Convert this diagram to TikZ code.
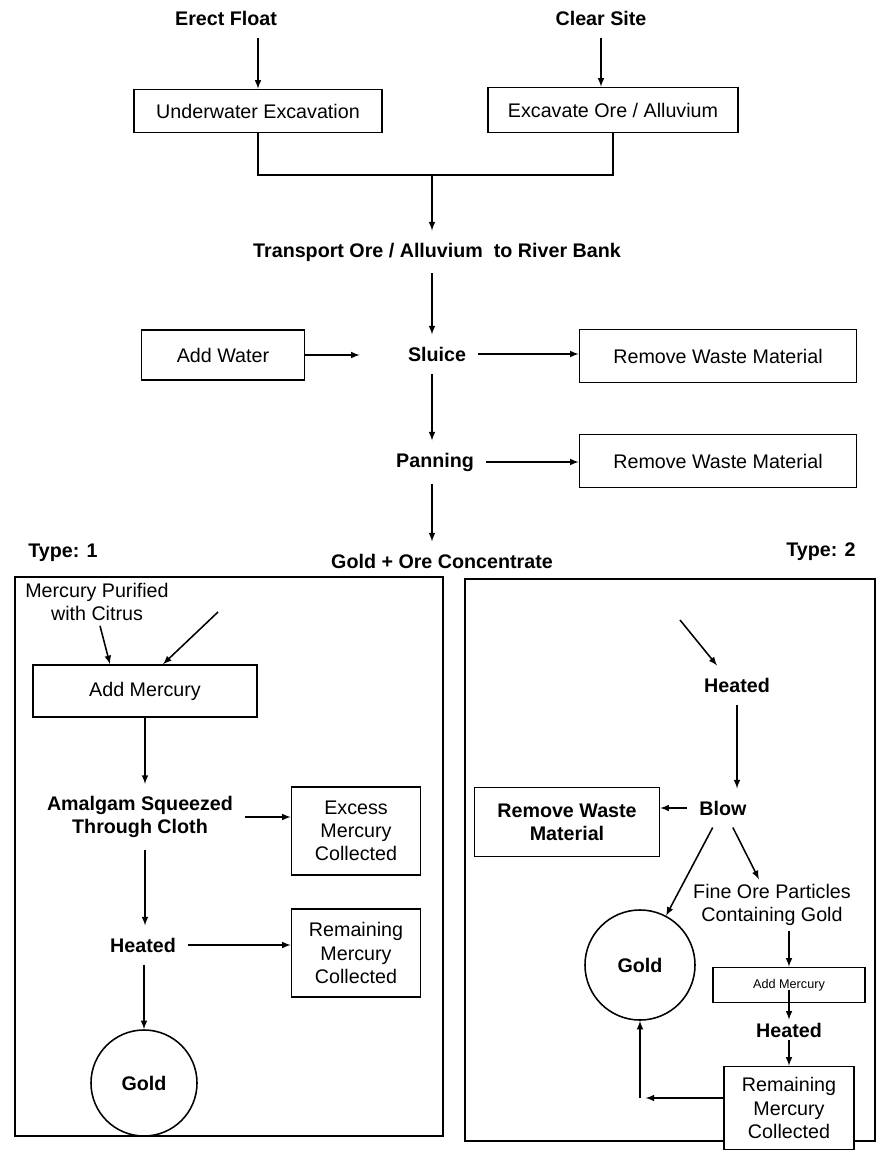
\documentclass[tikz,border=0pt]{standalone}
\usepackage{fontspec}
\setmainfont{Liberation Sans}
\usetikzlibrary{calc}
\usetikzlibrary{arrows}

\begin{document}
\begin{tikzpicture}[x=0.025cm,y=-0.025cm,
  every node/.style={font=\fontsize{14}{16.5}\selectfont,align=center},
  stage/.style={font=\fontsize{14}{16.5}\selectfont\bfseries,inner sep=0.3cm},
  stepbox/.style={draw,fill=white,line width=1.1pt,inner sep=0pt},
  pot/.style={draw,circle,fill=white,line width=1.1pt,inner sep=0pt},
  flow/.style={->,>=latex,line width=1.1pt},
  frame/.style={line width=1.6pt}]
  \useasboundingbox (0,0) rectangle (877,1151);

  % Frames of the two types
  \draw[frame] (15,577) rectangle (443,1136);
  \draw[frame] (465,579) rectangle (875,1141);

  % Start of the work
  \node[stage] (float) at (226,18) {Erect Float};
  \node[stage] (site) at (601,18) {Clear Site};
  \node[stepbox,minimum width=6.2cm,minimum height=1.075cm] (uw) at (258,111) {Underwater Excavation};
  \node[stepbox,minimum width=6.25cm,minimum height=1.125cm] (exc) at (613,110) {Excavate Ore / Alluvium};
  \draw[flow] (float.south -| uw.north) -- (uw.north);
  \draw[flow] (site.south) -- (site.south |- exc.north);

  % Joining the two
  \coordinate (join) at (432,175);
  \node[stage] (transport) at (437,252) {Transport Ore / Alluvium\ \ to River Bank};
  \draw[line width=1.1pt] (uw.south) |- (join) -| (exc.south);
  \draw[flow] (join) -- (join |- transport.north);

  % Sluice and panning
  \node[stage] (sluice) at (437,354) {Sluice};
  \node[stepbox,minimum width=4.075cm,minimum height=1.25cm] (water) at (223,355) {Add Water};
  \node[stepbox,minimum width=6.925cm,minimum height=1.325cm] (waste1) at (718,356) {Remove Waste Material};
  \node[stage] (panning) at (435,462) {Panning};
  \node[stepbox,minimum width=6.925cm,minimum height=1.325cm] (waste2) at (718,461) {Remove Waste Material};
  \node[stage] (conc) at (442,561) {Gold + Ore Concentrate};
  \draw[flow] (transport.south -| join) -- (sluice.north -| join);
  \draw[flow,shorten >=0.9cm] (water.east) -- (water.east -| sluice.west);
  \draw[flow] (sluice.east) -- (sluice.east -| waste1.west);
  \draw[flow] (sluice.south -| join) -- (panning.north -| join);
  \draw[flow] (panning.east) -- (panning.east -| waste2.west);
  \draw[flow] (panning.south -| join) -- (conc.north -| join);

  % Type 1
  \node[stage,inner sep=2pt] (type1) at (63,553) {Type: 1};
  \node (purify) at (97,602) {Mercury Purified\\with Citrus};
  \coordinate (hgin) at (218,612);
  \node[stepbox,minimum width=5.6cm,minimum height=1.3cm] (mercury1) at (145,691) {Add Mercury};
  \node[stage] (squeeze) at (140,817) {Amalgam Squeezed\\Through Cloth};
  \node[stepbox,minimum width=3.225cm,minimum height=2.2cm] (excess) at (356,831) {Excess\\Mercury\\Collected};
  \node[stage] (heat1) at (143,945) {Heated};
  \node[stepbox,minimum width=3.225cm,minimum height=2.2cm] (remain1) at (356,953) {Remaining\\Mercury\\Collected};
  \node[pot,minimum size=2.65cm] (gold1) at (144,1083) {\bfseries Gold};
  \draw[flow] ($(purify.south)+(3,0)$) -- ($(mercury1.north)+(-35,0)$);
  \draw[flow] (hgin) -- ($(mercury1.north)+(18,0)$);
  \draw[flow] (mercury1.south) -- (mercury1.south |- squeeze.north);
  \draw[flow] (squeeze.east) -- (squeeze.east -| excess.west);
  \draw[flow] (squeeze.south -| mercury1.south) -- (heat1.north -| mercury1.south);
  \draw[flow] (heat1.east) -- (heat1.east -| remain1.west);
  \draw[flow] (heat1.south -| gold1.north) -- (gold1.north);

  % Type 2
  \node[stage,inner sep=2pt] (type2) at (821,552) {Type: 2};
  \coordinate (hin) at (680,620);
  \node[stage] (heat2) at (737,685) {Heated};
  \node[stage] (blow) at (723,808) {Blow};
  \node[stepbox,minimum width=4.625cm,minimum height=1.725cm,font=\fontsize{14}{16.5}\selectfont\bfseries] (waste3) at (567,822) {Remove Waste\\Material};
  \node[pot,minimum size=2.75cm] (gold2) at (640,965) {\bfseries Gold};
  \node (fine) at (772,905) {Fine Ore Particles\\Containing Gold};
  \node[stepbox,minimum width=3.8cm,minimum height=0.875cm,font=\fontsize{9}{11}\selectfont] (mercury2) at (789,985) {Add Mercury};
  \node[stage,inner sep=2pt] (heat3) at (789,1030) {Heated};
  \node[stepbox,minimum width=3.25cm,minimum height=2.075cm] (remain2) at (789,1108) {Remaining\\Mercury\\Collected};
  \coordinate (corner) at (640,1098);
  \draw[flow] (hin) -- ($(heat2.north)+(-20,0)$);
  \draw[flow] (heat2.south) -- (heat2.south |- blow.north);
  \draw[flow] (blow.west) -- (blow.west -| waste3.east);
  \draw[flow] (blow) -- (gold2);
  \draw[flow] (blow) -- (fine);
  \draw[flow] (fine.south -| mercury2.north) -- (mercury2.north);
  \draw[flow] ($(mercury2.center)+(0,5)$) -- (heat3.north);
  \draw[flow] (heat3.south) -- (remain2.north);
  \draw[flow,shorten >=4pt] (remain2.west |- corner) -- (corner);
  \draw[flow] (corner) -- (gold2);
\end{tikzpicture}
\end{document}
